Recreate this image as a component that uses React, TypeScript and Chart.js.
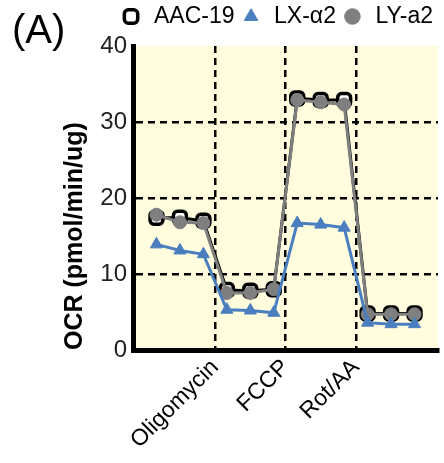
import React, { useEffect, useRef } from "react";
import { Chart, registerables } from "chart.js";

Chart.register(...registerables);

const SERIES_NAMES = ["AAC-19", "LX-α2", "LY-a2"];
const MEASUREMENTS = [1, 2, 3, 4, 5, 6, 7, 8, 9, 10, 11, 12];
const AAC19 = [17.4, 17.4, 17.0, 7.9, 7.8, 8.0, 33.1, 32.9, 32.9, 4.8, 4.8, 4.8];
const LXA2 = [13.9, 13.1, 12.6, 5.3, 5.2, 4.9, 16.7, 16.5, 16.1, 3.6, 3.4, 3.4];
const LYA2 = [17.8, 16.8, 16.7, 7.5, 7.5, 8.0, 32.9, 32.6, 32.3, 4.7, 4.7, 4.7];
const INJECTIONS = ["Oligomycin", "FCCP", "Rot/AA"];
const INJECTION_POS = [3.5, 6.5, 9.5];
const Y_TICKS = [0, 10, 20, 30, 40];
const Y_TITLE = "OCR (pmol/min/ug)";
const PANEL = "(A)";

const FONT = "'Liberation Sans', Arial, sans-serif";

const bgPlugin = {
  id: "plotBg",
  beforeDraw(chart: any) {
    const { ctx, chartArea } = chart;
    ctx.save();
    ctx.fillStyle = "#FFFDDE";
    ctx.fillRect(chartArea.left, chartArea.top, chartArea.right - chartArea.left, chartArea.bottom - chartArea.top);
    ctx.restore();
  },
  afterDraw(chart: any) {
    const { ctx } = chart;
    ctx.save();
    ctx.fillStyle = "#000";
    ctx.font = `40px ${FONT}`;
    ctx.textBaseline = "alphabetic";
    ctx.textAlign = "left";
    ctx.fillText(PANEL, 12, 43);
    ctx.restore();
  },
};

const layoutFixPlugin = {
  id: "layoutFix",
  beforeInit(chart: any) {
    const legend = chart.legend;
    if (!legend) return;
    const orig = legend.fit;
    legend.fit = function () {
      orig.call(this);
      this.height = 46;
    };
  },
};

export default function App() {
  const ref = useRef<HTMLCanvasElement | null>(null);

  useEffect(() => {
    document.body.style.margin = "0";
    const canvas = ref.current;
    if (!canvas) return;
    const mk = (vals: number[]) => MEASUREMENTS.map((x, i) => ({ x, y: vals[i] }));
    const chart = new Chart(canvas, {
      type: "line",
      data: {
        datasets: [
          {
            label: SERIES_NAMES[0],
            data: mk(AAC19),
            borderColor: "#000",
            backgroundColor: "#fff",
            borderWidth: 3,
            pointStyle: "rectRounded",
            pointRadius: 7.5,
            pointBorderWidth: 3.5,
            pointBorderColor: "#000",
            pointBackgroundColor: "#fff",
            order: 3,
          },
          {
            label: SERIES_NAMES[1],
            data: mk(LXA2),
            borderColor: "#4A7EBF",
            backgroundColor: "#4A7EBF",
            borderWidth: 3,
            pointStyle: "triangle",
            pointRadius: 7,
            pointBorderWidth: 1,
            pointBackgroundColor: "#4A7EBF",
            pointBorderColor: "#4A7EBF",
            order: 1,
          },
          {
            label: SERIES_NAMES[2],
            data: mk(LYA2),
            borderColor: "#7F7F7F",
            backgroundColor: "#7F7F7F",
            borderWidth: 3,
            pointStyle: "circle",
            pointRadius: 6.5,
            pointBorderWidth: 1,
            pointBackgroundColor: "#7F7F7F",
            pointBorderColor: "#7F7F7F",
            order: 2,
          },
        ],
      },
      options: {
        responsive: false,
        animation: false,
        layout: { autoPadding: false, padding: { left: 60, right: 6, top: 0, bottom: 0 } },
        plugins: {
          tooltip: { enabled: false },
          legend: {
            position: "top",
            align: "end",
            labels: {
              usePointStyle: true,
              boxHeight: 11,
              color: "#000",
              padding: 5,
              font: { family: FONT, size: 23 },
              sort: (a: any, b: any) => a.datasetIndex - b.datasetIndex,
            },
          },
        },
        scales: {
          x: {
            type: "linear",
            min: 0,
            max: 13,
            afterBuildTicks: (scale: any) => {
              scale.ticks = INJECTION_POS.map((v) => ({ value: v }));
            },
            afterFit: (scale: any) => {
              scale.height = 113;
              scale.paddingRight = 0;
              scale.paddingLeft = 0;
            },
            ticks: {
              autoSkip: false,
              minRotation: 45,
              maxRotation: 45,
              color: "#000",
              padding: 4,
              font: { family: FONT, size: 23 },
              callback: (v: any) => {
                const i = INJECTION_POS.indexOf(Number(v));
                return i >= 0 ? INJECTIONS[i] : "";
              },
            },
            grid: {
              color: "#000",
              lineWidth: 2.5,
              drawTicks: false,
            },
            border: { display: true, color: "#000", width: 5, dash: [7, 5] },
          },
          y: {
            type: "linear",
            min: 0,
            max: 40,
            afterBuildTicks: (scale: any) => {
              scale.ticks = Y_TICKS.map((v) => ({ value: v }));
            },
            afterFit: (scale: any) => {
              scale.width = 73;
            },
            ticks: {
              color: "#222",
              padding: 6,
              font: { family: FONT, size: 24 },
            },
            grid: {
              color: (c: any) => (c.tick && (c.tick.value === 0 || c.tick.value === 40) ? "rgba(0,0,0,0)" : "#000"),
              lineWidth: 2.5,
              drawTicks: false,
            },
            border: { display: true, color: "#000", width: 5, dash: [7, 5] },
            title: {
              display: true,
              text: Y_TITLE,
              align: "start",
              color: "#000",
              padding: { top: 0, bottom: 2 },
              font: { family: FONT, size: 25, weight: "bold" },
            },
          },
        },
      } as any,
      plugins: [bgPlugin, layoutFixPlugin],
    });
    return () => chart.destroy();
  }, []);

  return (
    <div style={{ width: 444, height: 463 }}>
      <canvas ref={ref} width={444} height={463} />
    </div>
  );
}
